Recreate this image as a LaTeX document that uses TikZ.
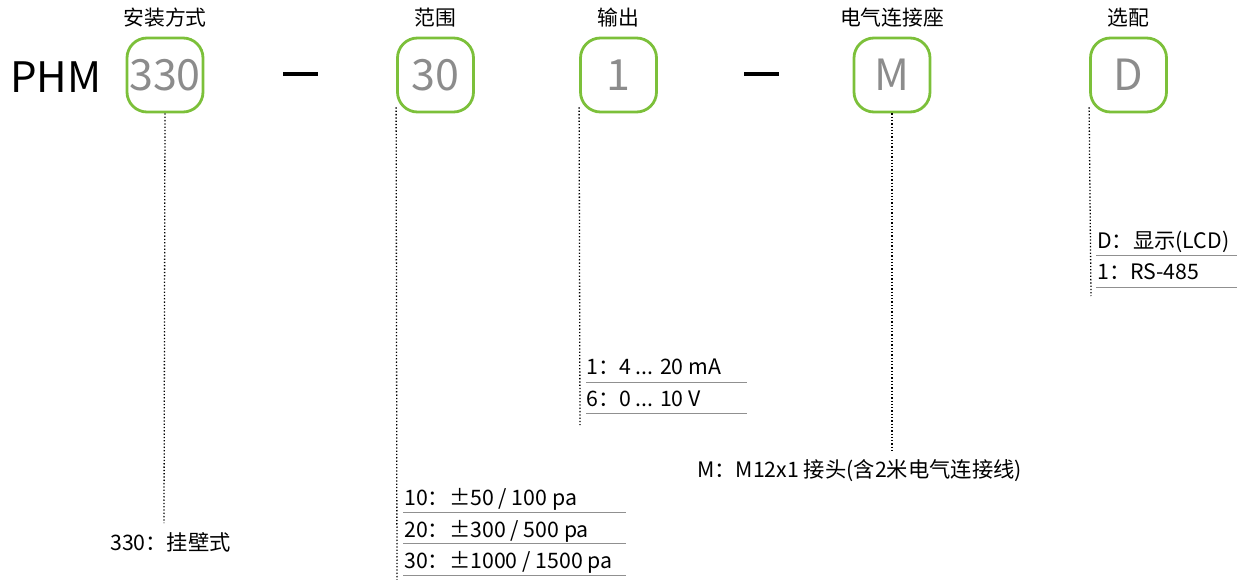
\documentclass[tikz,border=0pt]{standalone}
\usepackage{fontspec}
\setmainfont{Noto Sans CJK SC}
\definecolor{boxgreen}{HTML}{7CC03A}
\definecolor{codegray}{HTML}{8C8C8C}
\definecolor{rulegray}{HTML}{909090}
\begin{document}
\begin{tikzpicture}[x=1pt,y=-1pt,
  codebox/.style={draw=boxgreen,line width=2.8pt,rounded corners=20pt,minimum width=76pt,minimum height=74pt,inner sep=0pt,text=codegray,font=\fontsize{43}{46}\selectfont},
  head/.style={font=\fontsize{20.8}{24}\selectfont,inner sep=0pt},
  lbl/.style={font=\fontsize{21.3}{24}\selectfont,inner sep=0pt,anchor=west},
  leader/.style={line width=1.3pt,dash pattern=on 1.3pt off 2pt},
  uline/.style={draw=rulegray,line width=1pt},
  sep/.style={line width=3.6pt}]
\useasboundingbox (0,0) rectangle (1240,580);
% title
\node[font=\fontsize{42}{46}\selectfont,anchor=west,inner sep=0pt] (phm) at (10,77) {PHM};
% code boxes
\node[codebox] (b330) at (165,75) {330};
\node[codebox] (b30) at (435.5,75) {30};
\node[codebox] (b1) at (618.5,75) {1};
\node[codebox] (bM) at (892,75) {M};
\node[codebox] (bD) at (1128.5,75) {D};
% headings
\node[head] (h330) at (165,18) {安装方式};
\node[head] (h30) at (435.5,18) {范围};
\node[head] (h1) at (618.5,18) {输出};
\node[head] (hM) at (892,18) {电气连接座};
\node[head] (hD) at (1128.5,18) {选配};
% separators
\coordinate (s1a) at (283,74); \coordinate (s1b) at (318,74);
\coordinate (s2a) at (744,74); \coordinate (s2b) at (779,74);
\draw[sep] (s1a) -- (s1b);
\draw[sep] (s2a) -- (s2b);
% leader ends
\coordinate (e330) at (164,523);
\coordinate (e30) at (397,580);
\coordinate (e1) at (580,425);
\coordinate (eM) at (892,453);
\coordinate (eD) at (1091,296);
\draw[leader] (b330.south) -- (e330);
\draw[leader] ([yshift=6pt]b30.south west) -- (e30);
\draw[leader] ([yshift=6pt]b1.south west) -- (e1);
\draw[leader] (bM.south) -- (eM);
\draw[leader] ([yshift=6pt]bD.south west) -- (eD);
% labels 330
\node[lbl] (l330) at (110,542) {330：挂壁式};
% labels range
\node[lbl] (l10) at (404,499) {10：±50 / 100 pa};
\node[lbl] (l20) at (404,531) {20：±300 / 500 pa};
\node[lbl] (l30) at (404,562) {30：±1000 / 1500 pa};
\draw[uline] (403,512) -- (626,512);
\draw[uline] (403,543) -- (626,543);
\draw[uline] (403,575) -- (626,575);
% labels output
\node[lbl] (lo1) at (586,367) {1：4 ... 20 mA};
\node[lbl] (lo6) at (586,399) {6：0 ... 10 V};
\draw[uline] (586,382) -- (747,382);
\draw[uline] (586,413) -- (747,413);
% label M
\node[lbl] (lM) at (697,471) {M：M12x1 接头(含2米电气连接线)};
% labels options
\node[lbl] (lD) at (1097,242) {D：显示(LCD)};
\node[lbl] (lR) at (1097,272) {1：RS-485};
\draw[uline] (1096,256) -- (1237,256);
\draw[uline] (1096,287) -- (1237,287);
\end{tikzpicture}
\end{document}
